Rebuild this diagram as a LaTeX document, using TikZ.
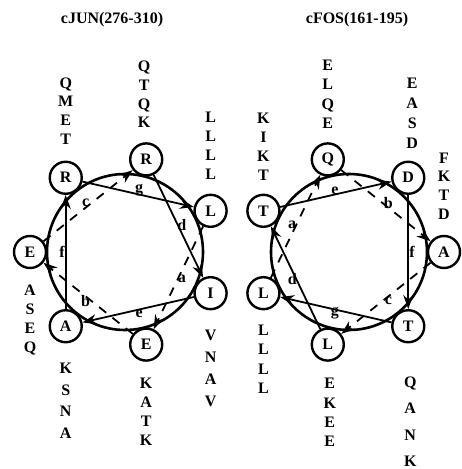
\documentclass[tikz,border=0pt]{standalone}
\usepackage{fontspec}
\setmainfont{Liberation Serif}
\usetikzlibrary{positioning, arrows.meta, calc}
\tikzset{helix/.style={draw, circle, line width=2.6pt, minimum size=156pt, inner sep=0pt},
res/.style={draw, circle, fill=white, line width=2.4pt, inner sep=0pt, minimum size=32pt, font=\fontsize{16}{19}\selectfont\bfseries},
heptad/.style={inner sep=0pt, font=\fontsize{16}{19}\selectfont\bfseries},
seq/.style={align=center, inner sep=0pt, font=\fontsize{16}{#1}\selectfont\bfseries},
seq/.default=19pt,
title/.style={inner sep=0pt, font=\fontsize{16}{19}\selectfont\bfseries},
front/.style={-{Stealth[length=14pt, width=10pt]}, line width=1.8pt},
back/.style={front, dash pattern=on 9pt off 8pt}}

\begin{document}
\begin{tikzpicture}[x=1pt, y=1pt]
  \useasboundingbox (0,0) rectangle (461,469);
  % cJUN
  \node[title] (tjun) at (112,449) {cJUN(276-310)};
  \node[helix] (jun) at (125,217) {};
  \node[res] (ja) at ($(jun.center)+(-25.7:95)$) {I};
  \node[res] (jb) at ($(jun.center)+(-128.6:95)$) {A};
  \node[res] (jc) at ($(jun.center)+(128.6:95)$) {R};
  \node[res] (jd) at ($(jun.center)+(25.7:95)$) {L};
  \node[res] (je) at ($(jun.center)+(-77.1:95)$) {E};
  \node[res] (jf) at ($(jun.center)+(180:95)$) {E};
  \node[res] (jg) at ($(jun.center)+(77.1:95)$) {R};
  \node[heptad] (la) at ($(jun.center)+(-25.7:63)$) {a};
  \node[heptad] (lb) at ($(jun.center)+(-128.6:63)$) {b};
  \node[heptad] (lc) at ($(jun.center)+(128.6:63)$) {c};
  \node[heptad] (ld) at ($(jun.center)+(25.7:63)$) {d};
  \node[heptad] (le) at ($(jun.center)+(-77.1:63)$) {e};
  \node[heptad] (lf) at ($(jun.center)+(180:63)$) {f};
  \node[heptad] (lg) at ($(jun.center)+(77.1:63)$) {g};
  \node[seq=18.7pt] (sjc) at ([yshift=67pt]jc.center) {Q\\M\\E\\T};
  \node[seq=18.7pt] (sjg) at ([xshift=-2pt, yshift=65pt]jg.center) {Q\\T\\Q\\K};
  \node[seq=18.7pt] (sjd) at ([yshift=65pt]jd.center) {L\\L\\L\\L};
  \node[seq=19pt] (sjf) at ([yshift=-68.5pt]jf.center) {A\\S\\E\\Q};
  \node[seq=21.7pt] (sjb) at ([yshift=-74.5pt]jb.center) {K\\S\\N\\A};
  \node[seq=19pt] (sje) at ([yshift=-67.5pt]je.center) {K\\A\\T\\K};
  \node[seq=22pt] (sja) at ([yshift=-75pt]ja.center) {V\\N\\A\\V};
  \draw[front] (ja) -- (jb);
  \draw[front] (jb) -- (jc);
  \draw[front] (jc) -- (jd);
  \draw[back] (jd) -- (je);
  \draw[back] (je) -- (jf);
  \draw[back] (jf) -- (jg);
  \draw[front] (jg) -- (ja);
  % cFOS
  \node[title] (tfos) at (357,449) {cFOS(161-195)};
  \node[helix] (fos) at (349,217) {};
  \node[res] (fa) at ($(fos.center)+(154.3:95)$) {T};
  \node[res] (fb) at ($(fos.center)+(51.4:95)$) {D};
  \node[res] (fc) at ($(fos.center)+(-51.4:95)$) {T};
  \node[res] (fd) at ($(fos.center)+(-154.3:95)$) {L};
  \node[res] (fe) at ($(fos.center)+(102.9:95)$) {Q};
  \node[res] (ff) at ($(fos.center)+(0:95)$) {A};
  \node[res] (fg) at ($(fos.center)+(-102.9:95)$) {L};
  \node[heptad] (ma) at ($(fos.center)+(154.3:63)$) {a};
  \node[heptad] (mb) at ($(fos.center)+(51.4:63)$) {b};
  \node[heptad] (mc) at ($(fos.center)+(-51.4:63)$) {c};
  \node[heptad] (md) at ($(fos.center)+(-154.3:63)$) {d};
  \node[heptad] (me) at ($(fos.center)+(102.9:63)$) {e};
  \node[heptad] (mf) at ($(fos.center)+(0:63)$) {f};
  \node[heptad] (mg) at ($(fos.center)+(-102.9:63)$) {g};
  \node[seq=18.7pt] (sfa) at ([yshift=64pt]fa.center) {K\\I\\K\\T};
  \node[seq=19.3pt] (sfe) at ([yshift=65pt]fe.center) {E\\L\\Q\\E};
  \node[seq=19.7pt] (sfb) at ([xshift=4pt, yshift=64.5pt]fb.center) {E\\A\\S\\D};
  \node[seq=18.7pt] (sff) at ([yshift=66pt]ff.center) {F\\K\\T\\D};
  \node[seq=19.3pt] (sfd) at ([yshift=-66pt]fd.center) {L\\L\\L\\L};
  \node[seq=19.3pt] (sfg) at ([xshift=2pt, yshift=-68pt]fg.center) {E\\K\\E\\E};
  \node[seq=26.3pt] (sfc) at ([xshift=2pt, yshift=-95.5pt]fc.center) {Q\\A\\N\\K};
  \draw[front] (fa) -- (fb);
  \draw[front] (fb) -- (fc);
  \draw[front] (fc) -- (fd);
  \draw[back] (fd) -- (fe);
  \draw[back] (fe) -- (ff);
  \draw[back] (ff) -- (fg);
  \draw[front] (fg) -- (fa);
\end{tikzpicture}
\end{document}
